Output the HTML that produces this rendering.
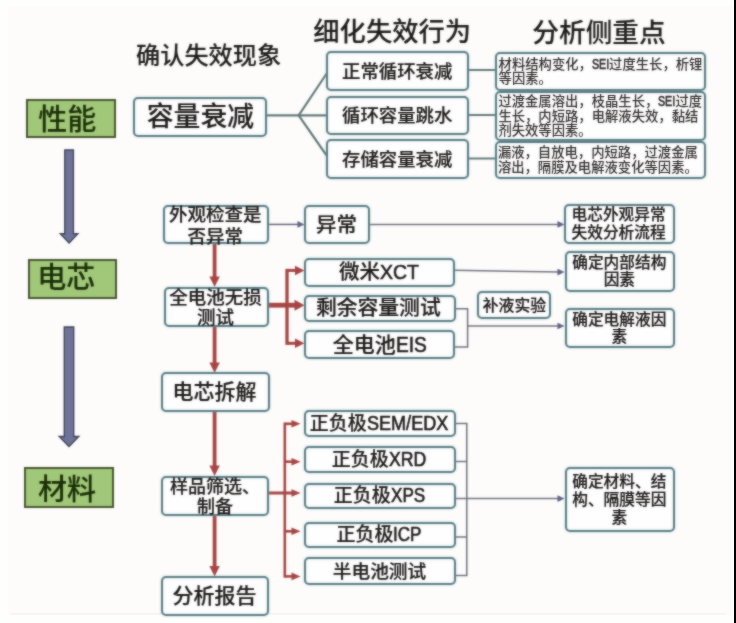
<!DOCTYPE html>
<html lang="zh-CN">
<head>
<meta charset="utf-8">
<title>电池失效分析流程</title>
<style>
html,body{margin:0;padding:0;background:#fefefe;}
body{width:736px;height:623px;overflow:hidden;position:relative;font-family:"Liberation Sans","Noto Sans CJK SC",sans-serif;color:#1e1a1a;}
#stage{position:absolute;left:0;top:0;width:736px;height:623px;overflow:hidden;background:#fefefd;}
#inner{position:absolute;left:8px;top:6px;width:725px;height:609px;background:#fdfcfb;}
#base{position:absolute;left:10px;top:613px;width:716px;height:2px;background:rgba(60,60,60,.035);}
#edge{position:absolute;left:734px;top:0;width:2px;height:623px;background:#000;}
#art{position:absolute;left:0;top:0;width:736px;height:623px;filter:url(#soft);}
#fx{position:absolute;left:0;top:0;width:0;height:0;}
svg{position:absolute;left:0;top:0;}
.t{position:absolute;white-space:nowrap;font-weight:500;}
.s{-webkit-text-stroke:.22px currentColor;}
.b{-webkit-text-stroke:.12px currentColor;}
.tb,.gb{position:absolute;box-sizing:border-box;}
.tb{border:2px solid #5c7c82;border-radius:5px;background:#fefefe;box-shadow:0 0 2.5px rgba(130,195,208,.5),inset 0 0 2.5px rgba(130,195,208,.4);}
.gb{border:2px solid #47562f;background:#a1c879;}
.la{display:inline-block;transform-origin:0 70%;-webkit-text-stroke:.6px currentColor;}
</style>
</head>
<body>
<svg id="fx" width="0" height="0" aria-hidden="true"><defs><filter id="soft" x="0" y="0" width="100%" height="100%" color-interpolation-filters="sRGB"><feGaussianBlur stdDeviation="1" result="b"/><feComposite in="SourceGraphic" in2="b" operator="arithmetic" k1="0" k2="0.45" k3="0.55" k4="0"/></filter></defs></svg>
<div id="stage">
<div id="inner"></div>
<div id="base"></div>
<div id="art">
<svg width="736" height="623" viewBox="0 0 736 623">
<g stroke="#627a7a" stroke-width="2.2" fill="none" stroke-linecap="round"><path d="M266,115.3 H328"/><path d="M298.7,115.3 L328,71.5"/><path d="M298.7,115.3 L328,157.5"/><path d="M468,70 H496"/><path d="M468,115 H496"/><path d="M468,158.5 H496"/></g>
<path d="M64.8,150 H73.4 V233.8 H77.85 L69.1,243 L60.35,233.8 H64.8 Z" fill="#6e7399" stroke="#3f4258" stroke-width="1.4" stroke-linejoin="miter"/>
<path d="M64.3,327 H73.7 V436.5 H78.75 L69,446.6 L59.25,436.5 H64.3 Z" fill="#6e7399" stroke="#3f4258" stroke-width="1.4" stroke-linejoin="miter"/>
<g stroke="#a64543" fill="none">
<path d="M214.6,243.5 V279" stroke-width="3.8"/>
<path d="M209.4,276.5 L214.6,287 L219.8,276.5 Z" fill="#a64543" stroke="none"/>
<path d="M214.6,326 V365" stroke-width="3.8"/>
<path d="M209.4,362.5 L214.6,373 L219.8,362.5 Z" fill="#a64543" stroke="none"/>
<path d="M214.6,411.6 V468" stroke-width="3.8"/>
<path d="M209.4,465.5 L214.6,476 L219.8,465.5 Z" fill="#a64543" stroke="none"/>
<path d="M214.6,515.3 V568.4" stroke-width="3.8"/>
<path d="M209.4,565.9 L214.6,576.4 L219.8,565.9 Z" fill="#a64543" stroke="none"/>
<path d="M268.5,305.2 H295.5" stroke-width="4.8"/><path d="M294.5,299.7 L304.5,305.2 L294.5,310.7 Z" fill="#a64543" stroke="none"/>
<path d="M287,268.9 V344.8" stroke-width="3.3"/>
<path d="M287,270.4 H296.0" stroke-width="3"/><path d="M295.0,265.65 L304.5,270.4 L295.0,275.15 Z" fill="#a64543" stroke="none"/>
<path d="M287,343.3 H296.0" stroke-width="3"/><path d="M295.0,338.55 L304.5,343.3 L295.0,348.05 Z" fill="#a64543" stroke="none"/>
<path d="M284.8,422.6 V577.6" stroke-width="2.6"/>
<path d="M268.5,493 H292.5" stroke-width="3"/><path d="M291.5,489.2 L300.5,493 L291.5,496.8 Z" fill="#a64543" stroke="none"/>
<path d="M284.8,423.8 H292.5" stroke-width="2.6"/><path d="M291.5,420.0 L300.5,423.8 L291.5,427.6 Z" fill="#a64543" stroke="none"/>
<path d="M284.8,461.7 H292.5" stroke-width="2.6"/><path d="M291.5,457.9 L300.5,461.7 L291.5,465.5 Z" fill="#a64543" stroke="none"/>
<path d="M284.8,531.3 H292.5" stroke-width="2.6"/><path d="M291.5,527.5 L300.5,531.3 L291.5,535.1 Z" fill="#a64543" stroke="none"/>
<path d="M284.8,576.4 H292.5" stroke-width="2.6"/><path d="M291.5,572.6 L300.5,576.4 L291.5,580.2 Z" fill="#a64543" stroke="none"/>
</g>
<g stroke="#70717e" stroke-width="1.5" fill="none">
<g stroke="#62647c"><path d="M268.5,224.4 H300"/><path d="M297.5,221.1 L304.5,224.4 L297.5,227.7 Z" fill="#5f6286" stroke="none"/></g>
<path d="M369,224.4 H560"/><path d="M557.5,221.1 L564.5,224.4 L557.5,227.7 Z" fill="#5f6286" stroke="none"/>
<path d="M454,270.3 L560,272"/><path d="M557.5,268.8 L564.5,272.1 L557.5,275.4 Z" fill="#5f6286" stroke="none"/>
<path d="M455,308.8 H467.6 V347 H454.5"/>
<path d="M467.6,326 H560"/><path d="M557.5,322.7 L564.5,326 L557.5,329.3 Z" fill="#5f6286" stroke="none"/>
<path d="M455,423.6 H466.8 V575.4 H455"/>
<path d="M455,461.5 H466.8"/>
<path d="M455,537 H466.8"/>
<path d="M455,498.6 H560"/><path d="M557.5,495.3 L564.5,498.6 L557.5,501.9 Z" fill="#5f6286" stroke="none"/>
</g>
</svg>
<div class="t b" id="t0" style="top:39.92px;font-size:24.2px;line-height:31.46px;height:31.46px;left:58.6px;width:300px;text-align:center;">确认失效现象</div>
<div class="t b" id="t1" style="top:15.08px;font-size:26.3px;line-height:34.19px;height:34.19px;left:242.2px;width:300px;text-align:center;">细化失效行为</div>
<div class="t b" id="t2" style="top:16.25px;font-size:26.7px;line-height:34.71px;height:34.71px;left:449px;width:300px;text-align:center;">分析侧重点</div>
<div class="gb" style="left:25.5px;top:98.8px;width:90.0px;height:39.6px"><div class="t b" id="t3" style="top:1.49px;font-size:29px;line-height:37.7px;height:37.7px;left:-110.2px;width:300px;text-align:center;color:#1b2f08;">性能</div></div>
<div class="gb" style="left:27.8px;top:259px;width:89.2px;height:40px"><div class="t b" id="t4" style="top:-1.11px;font-size:29px;line-height:37.7px;height:37.7px;left:-113.5px;width:300px;text-align:center;color:#1b2f08;">电芯</div></div>
<div class="gb" style="left:24px;top:467.2px;width:90px;height:40.4px"><div class="t b" id="t5" style="top:2.59px;font-size:29px;line-height:37.7px;height:37.7px;left:-109px;width:300px;text-align:center;color:#1b2f08;">材料</div></div>
<div class="tb" style="left:133.2px;top:96.7px;width:133.8px;height:40.0px"><div class="t b" id="t6" style="top:1.49px;font-size:26.8px;line-height:34.84px;height:34.84px;left:-84.8px;width:300px;text-align:center;">容量衰减</div></div>
<div class="tb" style="left:325.9px;top:51.3px;width:143.0px;height:40.0px"><div class="t s" id="t7" style="top:6.64px;font-size:18.4px;line-height:23.92px;height:23.92px;left:-80.7px;width:300px;text-align:center;">正常循环衰减</div></div>
<div class="tb" style="left:325.9px;top:95.7px;width:143.0px;height:39.2px"><div class="t s" id="t8" style="top:6.24px;font-size:18.4px;line-height:23.92px;height:23.92px;left:-80.7px;width:300px;text-align:center;">循环容量跳水</div></div>
<div class="tb" style="left:325.9px;top:139.4px;width:143.0px;height:39.5px"><div class="t s" id="t9" style="top:6.74px;font-size:18.4px;line-height:23.92px;height:23.92px;left:-80.7px;width:300px;text-align:center;">存储容量衰减</div></div>
<div class="tb" style="left:494.6px;top:51.8px;width:211.4px;height:39.4px"><div class="t" id="t10" style="top:2.23px;font-size:13.33px;line-height:17.33px;height:17.33px;left:2.0px;color:#2e2a2a;">材料结构变化，<span class="la" style="transform:scale(0.8,1.04);margin-right:-4.3px">SEI</span>过度生长，析锂</div><div class="t" id="t11" style="top:16.33px;font-size:13.33px;line-height:17.33px;height:17.33px;left:2.0px;color:#2e2a2a;">等因素。</div></div>
<div class="tb" style="left:494.6px;top:90.7px;width:211.4px;height:50.3px"><div class="t" id="t12" style="top:0.63px;font-size:13.33px;line-height:17.33px;height:17.33px;left:1.8px;color:#2e2a2a;">过渡金属溶出，枝晶生长，<span class="la" style="transform:scale(0.8,1.04);margin-right:-4.3px">SEI</span>过度</div><div class="t" id="t13" style="top:14.83px;font-size:13.33px;line-height:17.33px;height:17.33px;left:1.8px;color:#2e2a2a;">生长，内短路，电解液失效，黏结</div><div class="t" id="t14" style="top:28.83px;font-size:13.33px;line-height:17.33px;height:17.33px;left:1.8px;color:#2e2a2a;">剂失效等因素。</div></div>
<div class="tb" style="left:494.6px;top:141.0px;width:211.5px;height:38.4px"><div class="t" id="t15" style="top:0.73px;font-size:13.33px;line-height:17.33px;height:17.33px;left:1.3px;color:#2e2a2a;">漏液，自放电，内短路，过渡金属</div><div class="t" id="t16" style="top:15.53px;font-size:13.33px;line-height:17.33px;height:17.33px;left:1.3px;color:#2e2a2a;">溶出，隔膜及电解液变化等因素。</div></div>
<div class="tb" style="left:162.8px;top:204.8px;width:106.4px;height:39.4px"><div class="t s" id="t17" style="top:-3.81px;font-size:18.5px;line-height:24.05px;height:24.05px;left:-99.6px;width:300px;text-align:center;">外观检查是</div><div class="t s" id="t18" style="top:18.28px;font-size:18.5px;line-height:24.05px;height:24.05px;left:-99.6px;width:300px;text-align:center;">否异常</div></div>
<div class="tb" style="left:163.5px;top:287.3px;width:105.7px;height:39.4px"><div class="t s" id="t19" style="top:-3.41px;font-size:18.5px;line-height:24.05px;height:24.05px;left:-99.9px;width:300px;text-align:center;">全电池无损</div><div class="t s" id="t20" style="top:16.29px;font-size:18.5px;line-height:24.05px;height:24.05px;left:-99.9px;width:300px;text-align:center;">测试</div></div>
<div class="tb" style="left:160.5px;top:372.3px;width:109.0px;height:40.0px"><div class="t s" id="t21" style="top:3.81px;font-size:21px;line-height:27.3px;height:27.3px;left:-97.9px;width:300px;text-align:center;">电芯拆解</div></div>
<div class="tb" style="left:160.5px;top:475.7px;width:108.7px;height:40.3px"><div class="t s" id="t22" style="top:-1.82px;font-size:18px;line-height:23.4px;height:23.4px;left:-97.6px;width:300px;text-align:center;">样品筛选、</div><div class="t s" id="t23" style="top:17.98px;font-size:18px;line-height:23.4px;height:23.4px;left:-97.6px;width:300px;text-align:center;">制备</div></div>
<div class="tb" style="left:160.5px;top:575.8px;width:108.7px;height:40.3px"><div class="t s" id="t24" style="top:4.31px;font-size:21px;line-height:27.3px;height:27.3px;left:-97.9px;width:300px;text-align:center;">分析报告</div></div>
<div class="tb" style="left:304.0px;top:204.8px;width:65.7px;height:39.7px"><div class="t s" id="t25" style="top:5.2px;font-size:20.5px;line-height:26.65px;height:26.65px;left:-119.5px;width:300px;text-align:center;">异常</div></div>
<div class="tb" style="left:304.0px;top:257.9px;width:150.7px;height:28.7px"><div class="t s" id="t26" style="top:-1.29px;font-size:20.5px;line-height:26.65px;height:26.65px;left:-77.0px;width:300px;text-align:center;">微米<span class="la" style="transform:scale(0.95,1.03);margin-right:-2.05px">XCT</span></div></div>
<div class="tb" style="left:304.0px;top:294.9px;width:151.5px;height:26.9px"><div class="t s" id="t27" style="top:-3.37px;font-size:20.8px;line-height:27.04px;height:27.04px;left:-77.7px;width:300px;text-align:center;">剩余容量测试</div></div>
<div class="tb" style="left:304.0px;top:330.3px;width:151.1px;height:28.4px"><div class="t s" id="t28" style="top:-1.69px;font-size:21px;line-height:27.3px;height:27.3px;left:-76.3px;width:300px;text-align:center;">全电池<span class="la" style="transform:scale(0.91,1.03);margin-right:-3.05px">EIS</span></div></div>
<div class="tb" style="left:476.8px;top:291.2px;width:74.2px;height:27.9px"><div class="t s" id="t29" style="top:2.48px;font-size:15.8px;line-height:20.54px;height:20.54px;left:-114.4px;width:300px;text-align:center;">补液实验</div></div>
<div class="tb" style="left:563.9px;top:204.3px;width:111.0px;height:40.2px"><div class="t s" id="t30" style="top:-1.16px;font-size:15.7px;line-height:20.41px;height:20.41px;left:-97.3px;width:300px;text-align:center;">电芯外观异常</div><div class="t s" id="t31" style="top:16.94px;font-size:15.7px;line-height:20.41px;height:20.41px;left:-97.3px;width:300px;text-align:center;">失效分析流程</div></div>
<div class="tb" style="left:564.5px;top:251.0px;width:110.2px;height:40.5px"><div class="t s" id="t32" style="top:0.04px;font-size:15.7px;line-height:20.41px;height:20.41px;left:-97.2px;width:300px;text-align:center;">确定内部结构</div><div class="t s" id="t33" style="top:17.34px;font-size:15.7px;line-height:20.41px;height:20.41px;left:-97.2px;width:300px;text-align:center;">因素</div></div>
<div class="tb" style="left:564.5px;top:307.8px;width:110.2px;height:40.2px"><div class="t s" id="t34" style="top:0.34px;font-size:15.7px;line-height:20.41px;height:20.41px;left:-97.2px;width:300px;text-align:center;">确定电解液因</div><div class="t s" id="t35" style="top:17.54px;font-size:15.7px;line-height:20.41px;height:20.41px;left:-97.2px;width:300px;text-align:center;">素</div></div>
<div class="tb" style="left:564.5px;top:466.6px;width:110.3px;height:65.9px"><div class="t s" id="t36" style="top:3.64px;font-size:15.7px;line-height:20.41px;height:20.41px;left:-97.2px;width:300px;text-align:center;">确定材料、结</div><div class="t s" id="t37" style="top:21.54px;font-size:15.7px;line-height:20.41px;height:20.41px;left:-97.2px;width:300px;text-align:center;">构、隔膜等因</div><div class="t s" id="t38" style="top:39.74px;font-size:15.7px;line-height:20.41px;height:20.41px;left:-97.2px;width:300px;text-align:center;">素</div></div>
<div class="tb" style="left:303.8px;top:410.0px;width:151.9px;height:27.0px"><div class="t s" id="t39" style="top:-0.01px;font-size:19px;line-height:24.7px;height:24.7px;left:-76.8px;width:300px;text-align:center;">正负极<span class="la" style="transform:scale(0.95,1.03);margin-right:-4.28px">SEM/EDX</span></div></div>
<div class="tb" style="left:303.8px;top:445.6px;width:151.9px;height:27.3px"><div class="t s" id="t40" style="top:-0.01px;font-size:19px;line-height:24.7px;height:24.7px;left:-76.8px;width:300px;text-align:center;">正负极<span class="la" style="transform:scale(0.93,1.03);margin-right:-2.81px">XRD</span></div></div>
<div class="tb" style="left:303.8px;top:482.6px;width:151.9px;height:26.9px"><div class="t s" id="t41" style="top:-0.11px;font-size:19px;line-height:24.7px;height:24.7px;left:-76.4px;width:300px;text-align:center;">正负极<span class="la" style="transform:scale(0.9,1.03);margin-right:-3.8px">XPS</span></div></div>
<div class="tb" style="left:303.8px;top:521.6px;width:151.9px;height:26.7px"><div class="t s" id="t42" style="top:-0.51px;font-size:19px;line-height:24.7px;height:24.7px;left:-76.6px;width:300px;text-align:center;">正负极<span class="la" style="transform:scale(0.9,1.03);margin-right:-3.17px">ICP</span></div></div>
<div class="tb" style="left:303.8px;top:557.3px;width:151.9px;height:27.4px"><div class="t s" id="t43" style="top:0.67px;font-size:18.7px;line-height:24.31px;height:24.31px;left:-76.3px;width:300px;text-align:center;">半电池测试</div></div>
</div>
<div id="edge"></div>
</div>
</body>
</html>
